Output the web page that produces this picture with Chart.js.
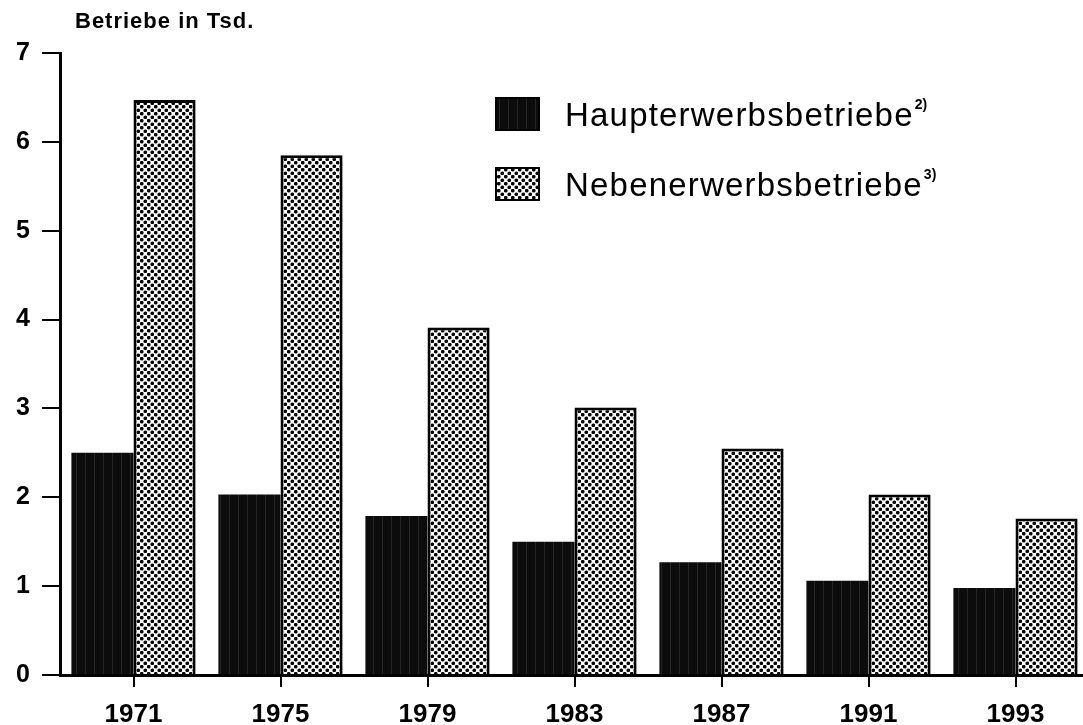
<!DOCTYPE html>
<html>
<head>
<meta charset="utf-8">
<script src="https://cdn.jsdelivr.net/npm/chart.js@4.4.1/dist/chart.umd.min.js"></script>
<style>
html, body { margin: 0; padding: 0; background: #fff; overflow: hidden; }
#wrap { width: 1083px; height: 725px; overflow: hidden; }
</style>
</head>
<body>
<div id="wrap"><canvas id="betriebeChart" width="1100" height="725"></canvas></div>
<script>
// Daten
var jahre = ['1971', '1975', '1979', '1983', '1987', '1991', '1993'];
var haupterwerb = [2.5, 2.03, 1.79, 1.5, 1.27, 1.06, 0.98];
var nebenerwerb = [6.47, 5.85, 3.91, 3.01, 2.55, 2.03, 1.76];
var serienNamen = ['Haupterwerbsbetriebe', 'Nebenerwerbsbetriebe'];
var fussnoten = ['2)', '3)'];
var achsenTitel = 'Betriebe in Tsd.';
var yMin = 0, yMax = 7, yStep = 1;

// Muster: dunkel (fast schwarz) und Punktraster
function dunkelMuster() {
    var c = document.createElement('canvas');
    c.width = 9; c.height = 4;
    var g = c.getContext('2d');
    g.fillStyle = '#0c0c0c';
    g.fillRect(0, 0, 9, 4);
    g.fillStyle = '#262626';
    g.fillRect(4, 0, 1, 4);
    return g.createPattern(c, 'repeat');
}

function punktMuster() {
    var c = document.createElement('canvas');
    c.width = 7; c.height = 7;
    var g = c.getContext('2d');
    g.fillStyle = '#fff';
    g.fillRect(0, 0, 7, 7);
    g.fillStyle = '#000';
    [[1.75, 1.75], [5.25, 5.25]].forEach(function (p) {
        g.beginPath();
        g.arc(p[0], p[1], 1.85, 0, Math.PI * 2);
        g.fill();
    });
    return g.createPattern(c, 'repeat');
}

var fuellung = [dunkelMuster(), punktMuster()];

// Titel oben links
var titelPlugin = {
    id: 'titel',
    afterDraw: function (chart) {
        var ctx = chart.ctx;
        ctx.save();
        ctx.fillStyle = '#000';
        ctx.font = 'bold 22px "Liberation Sans", Arial, sans-serif';
        ctx.letterSpacing = '1px';
        ctx.textBaseline = 'middle';
        ctx.textAlign = 'left';
        ctx.fillText(achsenTitel, 75, 22);
        ctx.restore();
    }
};

// Legende im Diagramm
var legendePlugin = {
    id: 'legende',
    afterDraw: function (chart) {
        var ctx = chart.ctx;
        ctx.save();
        chart.data.datasets.forEach(function (ds, i) {
            var y = 97 + i * 70;
            ctx.fillStyle = ds.backgroundColor;
            ctx.fillRect(495, y, 45, 34);
            ctx.strokeStyle = '#000';
            ctx.lineWidth = 2;
            ctx.strokeRect(496, y + 1, 43, 32);

            ctx.fillStyle = '#000';
            ctx.font = '33px "Liberation Sans", Arial, sans-serif';
            ctx.letterSpacing = '1.2px';
            ctx.textBaseline = 'middle';
            ctx.textAlign = 'left';
            ctx.fillText(ds.label, 565, y + 20);
            var w = ctx.measureText(ds.label).width;
            ctx.letterSpacing = '0px';
            ctx.font = 'bold 14px "Liberation Sans", Arial, sans-serif';
            ctx.fillText(fussnoten[i], 565 + w + 1, y + 8);
        });
        ctx.restore();
    }
};

var ctx = document.getElementById('betriebeChart').getContext('2d');

var chart = new Chart(ctx, {
    type: 'bar',
    data: {
        labels: jahre,
        datasets: [{
            label: serienNamen[0],
            data: haupterwerb,
            backgroundColor: fuellung[0],
            borderWidth: 0
        }, {
            label: serienNamen[1],
            data: nebenerwerb,
            backgroundColor: fuellung[1],
            borderColor: '#000',
            borderWidth: 3
        }]
    },
    options: {
        responsive: false,
        animation: false,
        events: [],
        categoryPercentage: 0.845,
        barPercentage: 1.0,
        layout: { padding: { top: 53, right: 11, left: 0, bottom: 0 } },
        plugins: {
            legend: { display: false },
            tooltip: { enabled: false }
        },
        scales: {
            x: {
                grid: {
                    offset: false,
                    drawOnChartArea: false,
                    drawTicks: true,
                    tickLength: 12,
                    color: '#000',
                    lineWidth: 2
                },
                border: { display: true, color: '#000', width: 3 },
                ticks: {
                    color: '#000',
                    padding: 12,
                    font: { family: '"Liberation Sans", Arial, sans-serif', size: 26, weight: 'bold' }
                },
                afterFit: function (scale) { scale.height = 50; }
            },
            y: {
                min: yMin,
                max: yMax,
                grid: {
                    drawOnChartArea: false,
                    drawTicks: true,
                    tickLength: 18,
                    color: '#000',
                    lineWidth: 2
                },
                border: { display: true, color: '#000', width: 3 },
                ticks: {
                    stepSize: yStep,
                    color: '#000',
                    padding: 12,
                    font: { family: '"Liberation Sans", Arial, sans-serif', size: 25, weight: 'bold' }
                },
                afterFit: function (scale) { scale.width = 60; }
            }
        }
    },
    plugins: [titelPlugin, legendePlugin]
});
</script>
</body>
</html>
